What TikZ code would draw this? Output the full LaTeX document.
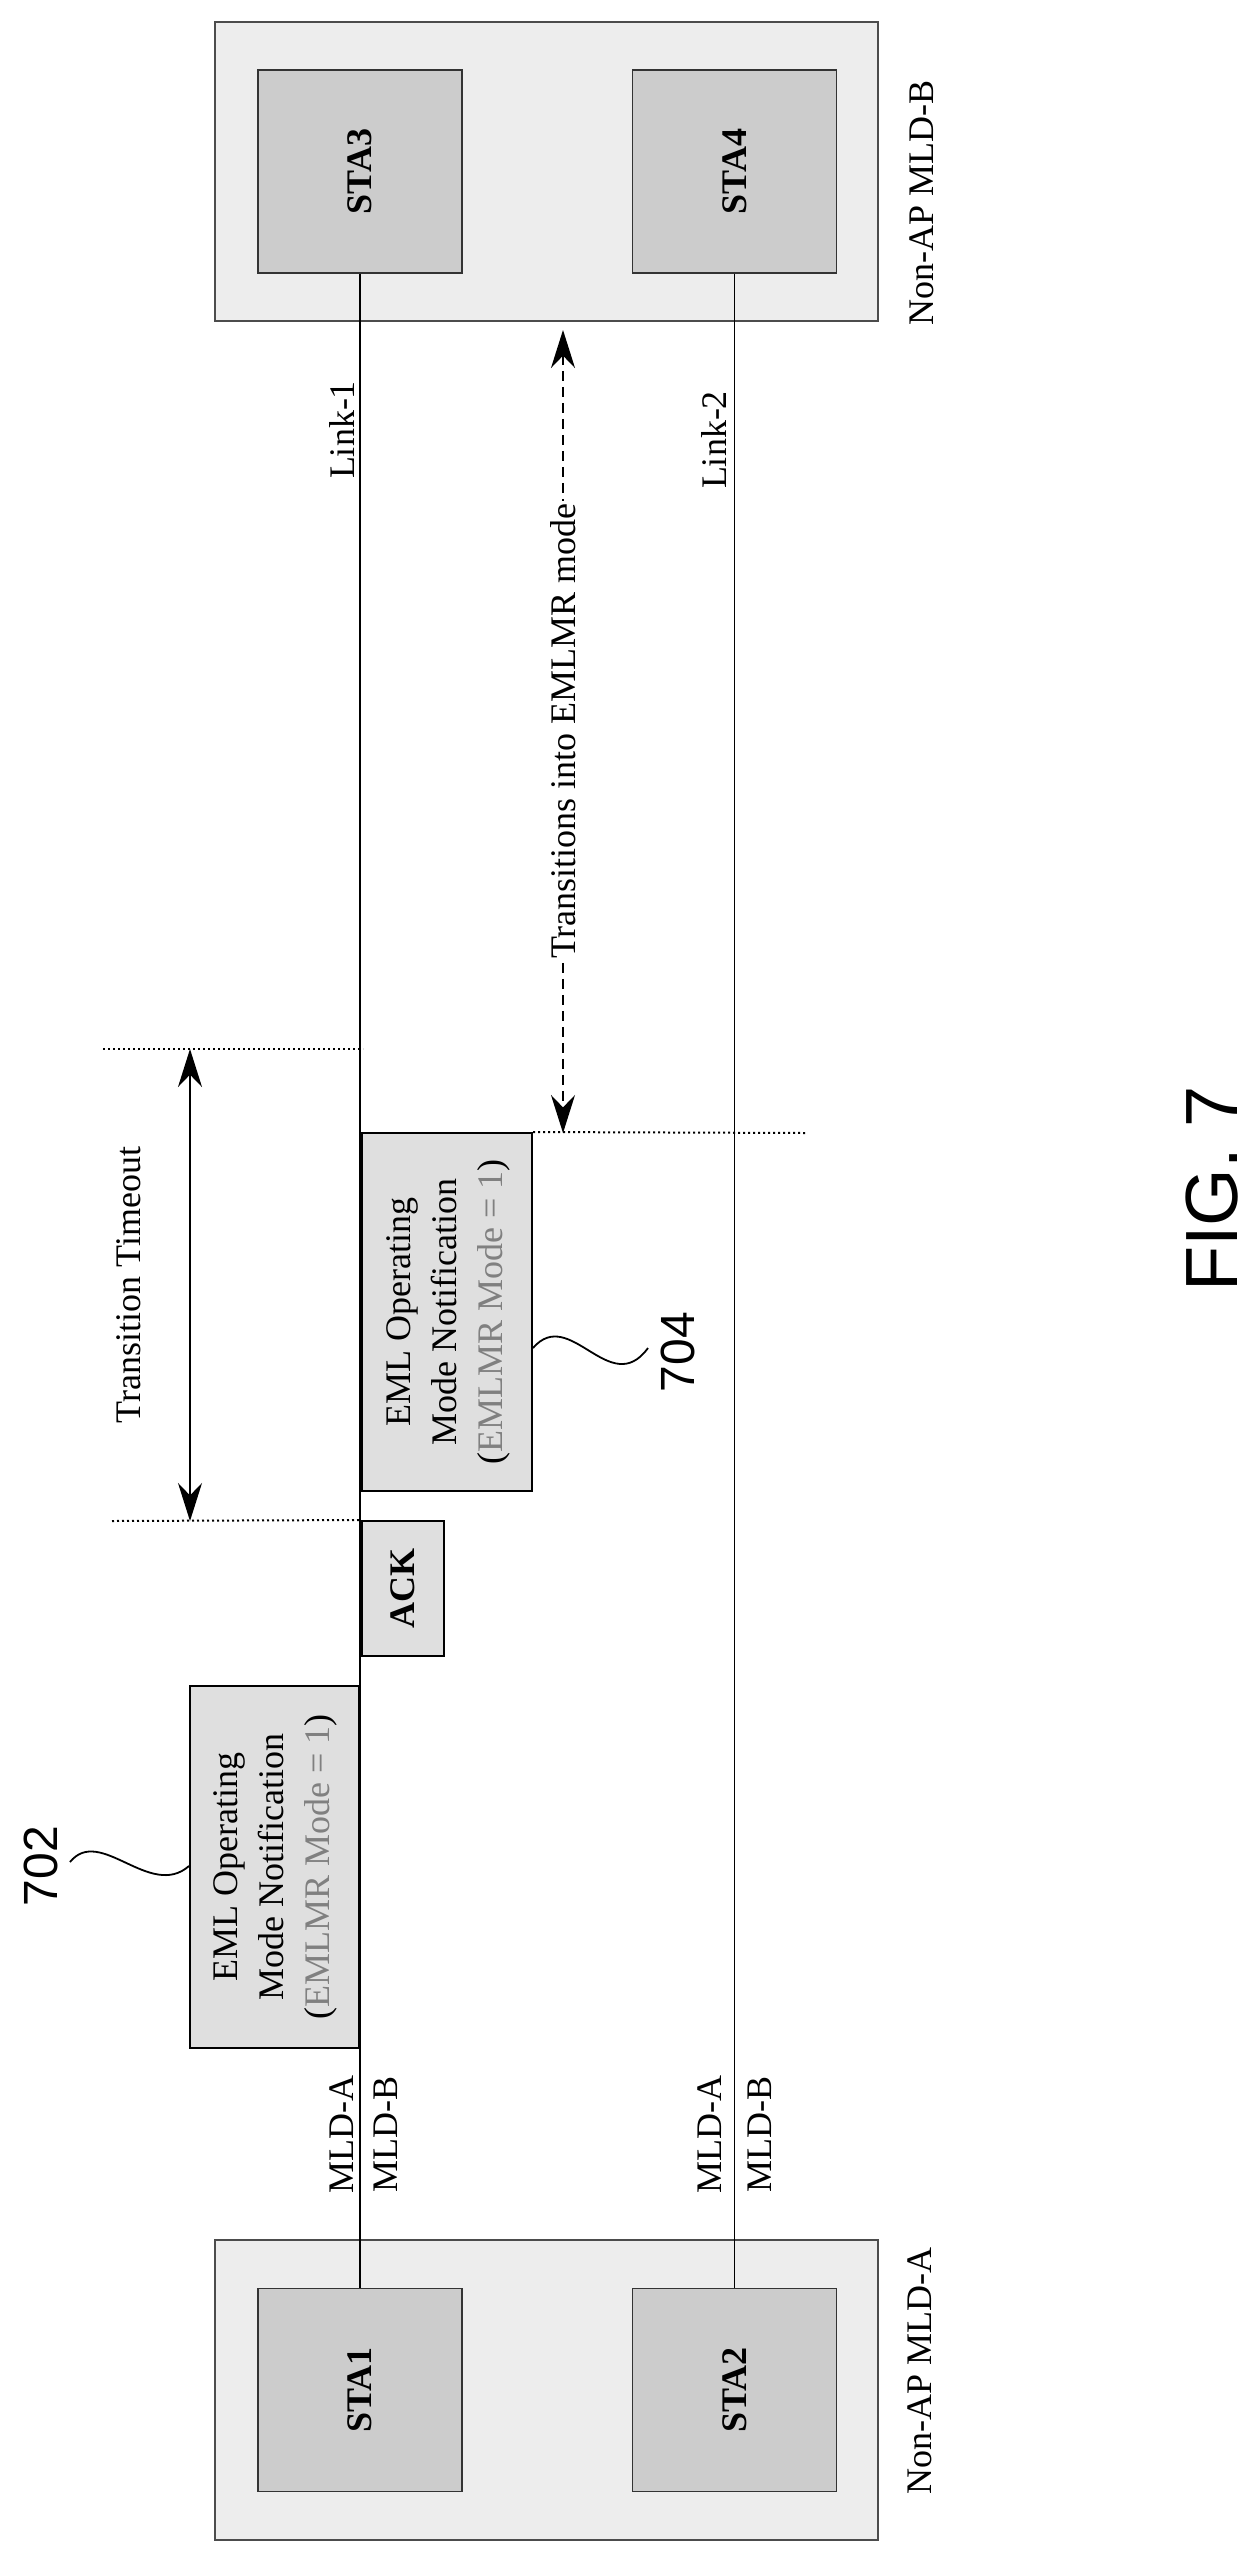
\documentclass[tikz,border=0pt]{standalone}
\usepackage{fontspec}
\setmainfont{Liberation Serif}
\newfontfamily\figfont{Liberation Sans}
\usepackage{tikz}
\usetikzlibrary{arrows.meta,positioning}

\begin{document}
\begin{tikzpicture}[x=1pt,y=-1pt,>={Stealth[length=38pt,width=24pt]},
       every node/.style={font=\fontsize{36}{46}\selectfont, inner sep=0pt},
       mld/.style 2 args = {rectangle, draw=black!70, line width=1.2pt, fill=gray!14,
                            minimum width=#1, minimum height=#2},
       sta/.style = {rectangle, draw=black!80, line width=1.2pt, fill=gray!40,
                     minimum width=204pt, minimum height=203pt, font=\fontsize{36}{46}\selectfont\bfseries},
       frame/.style 2 args = {rectangle, draw=black, line width=2pt, fill=gray!25,
                              minimum width=#1, minimum height=#2, align=center},
       lbl/.style = {rotate=90},
       refnum/.style = {rotate=90, font=\fontsize{48}{50}\selectfont\figfont},
       guide/.style = {line width=2pt, dash pattern=on 2pt off 3pt},
       link/.style = {line width=1.8pt}]
	\useasboundingbox (0,0) rectangle (1260,2562);

	%% Non-AP MLD-B
	\node [mld={663pt}{299pt}] (mldB) at (546.5,171.5) {};
	\node [sta] (sta3) at (360,171.5) {\rotatebox{90}{STA3}};
	\node [sta] (sta4) at (734.5,171.5) {\rotatebox{90}{STA4}};
	\node [lbl] (nameB) at (922,203) {Non-AP MLD-B};

	%% Non-AP MLD-A
	\node [mld={663pt}{300pt}] (mldA) at (546.5,2390) {};
	\node [sta] (sta1) at (360,2390) {\rotatebox{90}{STA1}};
	\node [sta] (sta2) at (734.5,2390) {\rotatebox{90}{STA2}};
	\node [lbl] (nameA) at (920,2371) {Non-AP MLD-A};

	%% Links
	\draw [link] (sta3.south) -- (sta1.north);
	\draw [link] (sta4.south) -- (sta2.north);
	\node [lbl] (link1) at (342,430) {Link-1};
	\node [lbl] (link2) at (714,440) {Link-2};
	\node [lbl] (a1) at (342,2134) {MLD-A};
	\node [lbl] (b1) at (386,2134) {MLD-B};
	\node [lbl] (a2) at (710,2134) {MLD-A};
	\node [lbl] (b2) at (760,2134) {MLD-B};

	%% Frames
	\node [frame={169pt}{362pt}] (eml1) at (274.5,1867) {\rotatebox{90}{\begin{tabular}{@{}c@{}}EML Operating\\Mode Notification\\(\textcolor{gray}{EMLMR Mode = 1})\end{tabular}}};
	\node [frame={82pt}{135pt}, font=\fontsize{36}{46}\selectfont\bfseries] (ack) at (403,1588.5) {\rotatebox{90}{ACK}};
	\node [frame={170pt}{358pt}] (eml2) at (447,1312) {\rotatebox{90}{\begin{tabular}{@{}c@{}}EML Operating\\Mode Notification\\(\textcolor{gray}{EMLMR Mode = 1})\end{tabular}}};

	%% Reference numbers
	\node [refnum] (n702) at (41,1866) {702};
	\node [refnum] (n704) at (678,1352) {704};
	\draw [line width=1.8pt] (70,1862) .. controls (100,1825) and (150,1900) .. (eml1.west |- 0,1866);
	\draw [line width=1.8pt] (eml2.east |- 0,1348) .. controls (570,1305) and (610,1400) .. (648,1348);

	%% Transition timeout
	\coordinate (tTop) at (190,1049);
	\coordinate (tBot) at (190,1521);
	\draw [guide] (103,1049) -- (363,1049);
	\draw [guide] (112,1521) -- (ack.north west);
	\draw [<->, line width=1.5pt] (tTop) -- (tBot);
	\node [lbl] (timeout) at (129,1285) {Transition Timeout};

	%% Transition into EMLMR
	\coordinate (eTop) at (563,330);
	\coordinate (eBot) at (563,1133);
	\draw [guide] (eml2.north east) -- (806,1133);
	\draw [<->, line width=1.5pt, dash pattern=on 10pt off 6pt] (eTop) -- (eBot);
	\node [lbl, fill=white, inner sep=2pt] (trans) at (563,731) {Transitions into EMLMR mode};

	\node [rotate=90, font=\fontsize{74}{76}\selectfont\figfont] (fig) at (1212,1189) {FIG. 7};
\end{tikzpicture}
\end{document}
